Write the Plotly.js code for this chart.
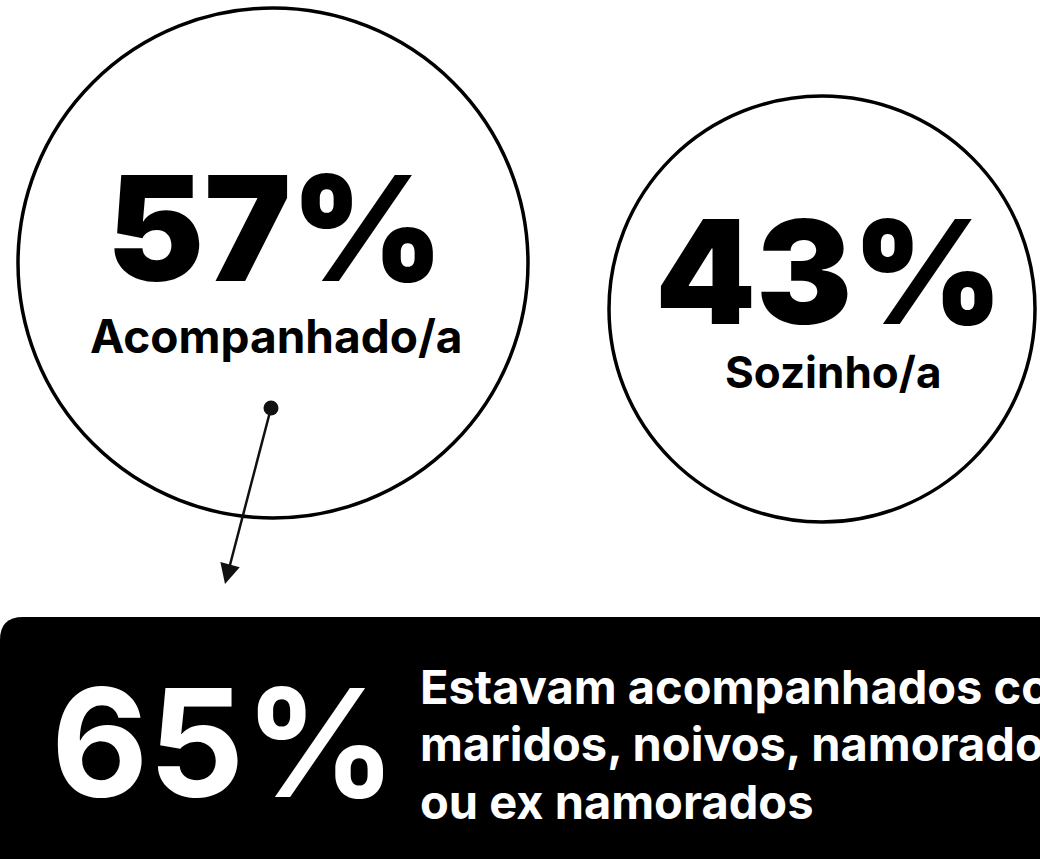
<!DOCTYPE html>
<html>
<head>
<meta charset="utf-8">
<script src="https://cdn.plot.ly/plotly-3.0.1.min.js"></script>
<style>html,body{margin:0;padding:0;background:#fff;overflow:hidden}#chart{width:1040px;height:859px}</style>
</head>
<body>
<div id="chart"></div>
<script>
// ---- data ----
const categories = ["Acompanhado/a", "Sozinho/a"];
const shares = [57, 43];
const subShare = 65;
const subText = ["Estavam acompanhados com", "maridos, noivos, namorados", "ou ex namorados"];

// ---- layout helpers (positions in pixel-like data space) ----
const circles = [
  {cx: 273, cy: 263, r: 255, numX: 275, numY: 228, numSize: 146, labX: 276, labY: 336, labSize: 46},
  {cx: 822, cy: 309, r: 213, numX: 829, numY: 271, numSize: 144, labX: 833, labY: 372, labSize: 44}
];
const FONT = "Inter, 'DejaVu Sans', sans-serif";

const shapes = [];
const annotations = [];
categories.forEach((c, i) => {
  const g = circles[i];
  shapes.push({type: "circle", xref: "x", yref: "y",
    x0: g.cx - g.r, x1: g.cx + g.r, y0: g.cy - g.r, y1: g.cy + g.r,
    line: {color: "#000", width: 3.5}, fillcolor: "rgba(0,0,0,0)"});
  annotations.push({x: g.numX, y: g.numY, xref: "x", yref: "y", showarrow: false,
    text: shares[i] + "%", xanchor: "center", yanchor: "middle",
    font: {family: FONT, size: g.numSize, color: "#000", weight: 900}});
  annotations.push({x: g.labX, y: g.labY, xref: "x", yref: "y", showarrow: false,
    text: c, xanchor: "center", yanchor: "middle",
    font: {family: FONT, size: g.labSize, color: "#000", weight: 700}});
});

// black panel with rounded top-left corner
shapes.push({type: "path", xref: "x", yref: "y",
  path: "M 0 640 Q 0 617 23 617 L 1060 617 L 1060 880 L 0 880 Z",
  fillcolor: "#000", line: {width: 0}, layer: "below"});

// arrow from dot to panel
annotations.push({x: 225, y: 584, ax: 271, ay: 408, xref: "x", yref: "y", axref: "x", ayref: "y",
  text: "", showarrow: true, arrowhead: 2, arrowsize: 1.6, arrowwidth: 2.5, arrowcolor: "#111"});

annotations.push({x: 224, y: 742, xref: "x", yref: "y", showarrow: false,
  text: subShare + "%", xanchor: "center", yanchor: "middle",
  font: {family: FONT, size: 150, color: "#fff", weight: 700}});
const lineY0 = 686, lineStep = 57.5;
subText.forEach((t, k) => {
  annotations.push({x: 418, y: lineY0 + k * lineStep, xref: "x", yref: "y", showarrow: false,
    text: t, xanchor: "left", yanchor: "middle", align: "left",
    font: {family: FONT, size: 47, color: "#fff", weight: 700}});
});

const traces = [{
  type: "scatter", mode: "markers", x: [271], y: [408],
  marker: {size: 15, color: "#111"}, hoverinfo: "skip", showlegend: false
}];

Plotly.newPlot("chart", traces, {
  width: 1040, height: 859,
  margin: {l: 0, r: 0, t: 0, b: 0},
  paper_bgcolor: "#fff", plot_bgcolor: "#fff",
  xaxis: {range: [0, 1040], visible: false, fixedrange: true},
  yaxis: {range: [859, 0], visible: false, fixedrange: true},
  shapes: shapes, annotations: annotations, showlegend: false
}, {staticPlot: true});
</script>
</body>
</html>
